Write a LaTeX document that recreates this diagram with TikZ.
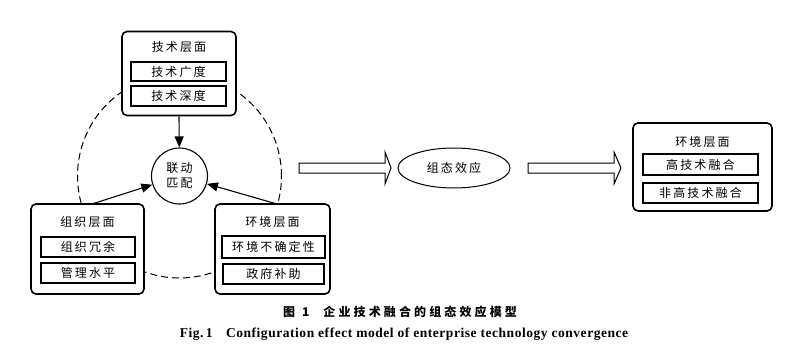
\documentclass[tikz,border=0pt]{standalone}
\usepackage{fontspec}
\setmainfont{Liberation Serif}
\newfontfamily\capen[LetterSpace=4]{Liberation Serif}
\newfontfamily\cjk[LetterSpace=18]{Noto Sans CJK SC}
\newfontfamily\cjkcap[LetterSpace=26]{Noto Sans CJK SC}
\usetikzlibrary{arrows.meta,shapes.geometric}
\begin{document}
\begin{tikzpicture}[x=1pt,y=-1pt,
  outer/.style={draw,line width=1.6pt,rounded corners=5pt,fill=white,inner sep=0pt},
  inner/.style={draw,line width=1.3pt,fill=white,inner sep=0pt,font=\cjk\fontsize{12}{12}\selectfont},
  ttl/.style={inner sep=0pt,font=\cjk\fontsize{12}{12}\selectfont},
  conn/.style={line width=1.1pt,-{Triangle[length=11pt,width=9pt]}},
  blockarrow/.style={draw,line width=1pt,fill=white,line join=miter}
]
\useasboundingbox (0,0) rectangle (800,350);
% dashed circle
\node[circle,draw,dash pattern=on 7pt off 4pt,line width=1pt,minimum size=204pt,inner sep=0pt] (ring) at (179.5,176) {};
% top box
\node[outer,minimum width=114pt,minimum height=84pt] (tbox) at (179,73.5) {};
\node[ttl] (tt) at (179,47) {技术层面};
\node[inner,minimum width=95pt,minimum height=19pt] (t1) at (178.5,71.5) {技术广度};
\node[inner,minimum width=95pt,minimum height=20pt] (t2) at (178.5,96) {技术深度};
% left box
\node[outer,minimum width=113pt,minimum height=90pt] (lbox) at (87.5,249) {};
\node[ttl] (lt) at (87.5,222) {组织层面};
\node[inner,minimum width=94pt,minimum height=20pt] (l1) at (88,247) {组织冗余};
\node[inner,minimum width=94pt,minimum height=20pt] (l2) at (88,273) {管理水平};
% right box
\node[outer,minimum width=115pt,minimum height=90pt] (rbox) at (272.5,249) {};
\node[ttl] (rt) at (272.5,222) {环境层面};
\node[inner,minimum width=103pt,minimum height=22pt] (r1) at (273.5,247) {环境不确定性};
\node[inner,minimum width=101pt,minimum height=20pt] (r2) at (273.5,274) {政府补助};
% center circle
\node[circle,draw,line width=1.1pt,fill=white,minimum size=56pt,inner sep=0pt,align=center,font=\cjk\fontsize{12}{15}\selectfont] (c) at (179.5,176) {联动\\匹配};
% connectors
\coordinate (ls) at (92,204);
\coordinate (rs) at (277,204);
\draw[conn] (tbox.south) -- (c);
\draw[conn] (ls) -- (c);
\draw[conn] (rs) -- (c);
% block arrows
\draw[blockarrow] (299,163) -- (385,163) -- (385,152) -- (391,168) -- (385,184) -- (385,173) -- (299,173) -- cycle;
\node[ellipse,draw,line width=1pt,minimum width=112pt,minimum height=40pt,inner sep=0pt,font=\cjk\fontsize{12}{12}\selectfont] (eff) at (454,168) {组态效应};
\draw[blockarrow] (528,163) -- (614,163) -- (614,152) -- (621,168) -- (614,184) -- (614,173) -- (528,173) -- cycle;
% result box
\node[outer,minimum width=139pt,minimum height=88pt] (obox) at (702.5,167) {};
\node[ttl] (ot) at (702.5,142) {环境层面};
\node[inner,minimum width=115pt,minimum height=21pt] (o1) at (700.5,164.5) {高技术融合};
\node[inner,minimum width=115pt,minimum height=20pt] (o2) at (700.5,193) {非高技术融合};
% captions
\node[inner sep=0pt,font=\cjkcap\bfseries\fontsize{12}{12}\selectfont] (cap1) at (400,312) {图\hspace{7pt}1\hspace{14pt}企业技术融合的组态效应模型};
\node[inner sep=0pt,font=\capen\bfseries\fontsize{13.5}{13.5}\selectfont] (cap2) at (404,334) {Fig.\,1\quad Configuration effect model of enterprise technology convergence};
\end{tikzpicture}
\end{document}
